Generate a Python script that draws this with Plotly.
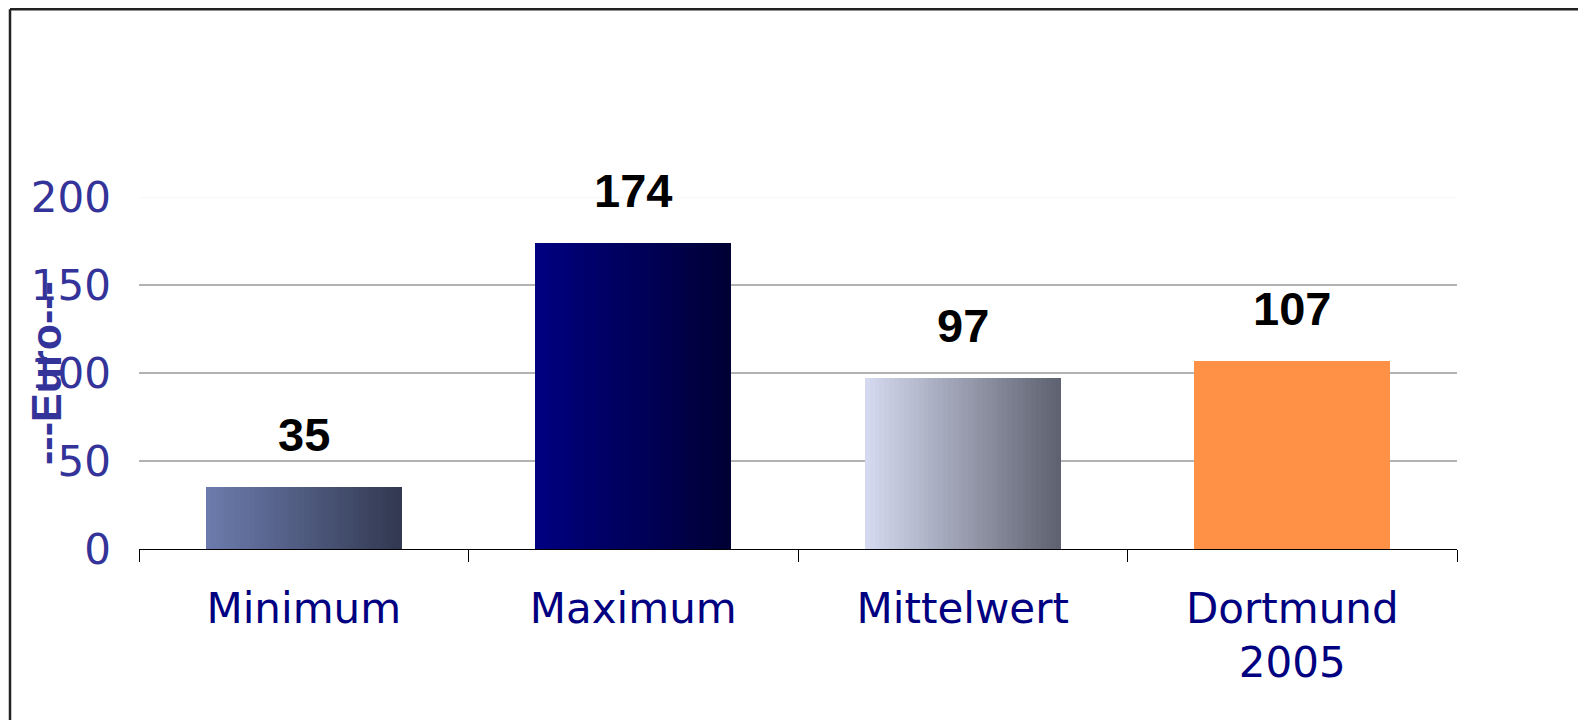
import plotly.graph_objects as go

categories = ["Minimum", "Maximum", "Mittelwert", "Dortmund<br>2005"]
values = [35, 174, 97, 107]
left_colors = ["#6d7cae", "#000082", "#d6dbf1", "#ff9147"]
right_colors = ["#313850", "#000033", "#5d606e", "#ff9147"]
y_ticks = [0, 50, 100, 150, 200]
grid_values = [50, 100, 150]

BAR_W = 0.595
N = 40


def hex2rgb(h):
    h = h.lstrip("#")
    return tuple(int(h[i:i + 2], 16) for i in (0, 2, 4))


def mix(c1, c2, t):
    a, b = hex2rgb(c1), hex2rgb(c2)
    return "rgb(%d,%d,%d)" % tuple(round(a[k] + (b[k] - a[k]) * t) for k in range(3))


fig = go.Figure()
step = BAR_W / N
for i in range(N):
    t = (i + 0.5) / N
    w = step * 1.6 if i < N - 1 else step
    fig.add_trace(go.Bar(
        x=categories, y=values,
        offset=-BAR_W / 2 + i * step, width=w,
        marker=dict(color=[mix(l, r, t) for l, r in zip(left_colors, right_colors)],
                    line=dict(width=0)),
        showlegend=False, hoverinfo="skip",
    ))

for c, v in zip(categories, values):
    fig.add_annotation(x=c, y=v, text=str(v), showarrow=False, yanchor="bottom",
                       yshift=24,
                       font=dict(family="Liberation Sans", size=47, color="black", weight="bold"),
                       xref="x", yref="y")

shapes = []
for g in grid_values:
    shapes.append(dict(type="line", xref="paper", yref="y", x0=0, x1=1, y0=g, y1=g,
                       line=dict(color="#999999", width=1.3), layer="below"))
shapes.append(dict(type="line", xref="paper", yref="y", x0=0, x1=1, y0=200, y1=200,
                   line=dict(color="#f2f2f2", width=1), layer="below"))
# outer frame (top and left edges)
FRAME_Y = (541 - 1.2) / 352
FRAME_X = (2 - 131) / 1318
shapes.append(dict(type="line", xref="paper", yref="paper", x0=FRAME_X, x1=1.2, y0=FRAME_Y, y1=FRAME_Y,
                   line=dict(color="#222222", width=2.5)))
shapes.append(dict(type="line", xref="paper", yref="paper", x0=FRAME_X, x1=FRAME_X, y0=FRAME_Y, y1=-0.6,
                   line=dict(color="#222222", width=2.5)))

fig.add_annotation(text="---Euro---", textangle=-90, xref="paper", yref="paper",
                   x=(46 - 139) / 1318, y=0.5, xanchor="center", yanchor="middle",
                   showarrow=False,
                   font=dict(family="Liberation Sans", size=43, color="#333399", weight="bold"))

fig.update_layout(
    width=1586, height=720,
    margin=dict(l=131, r=137, t=189, b=179),
    paper_bgcolor="white", plot_bgcolor="white",
    barmode="overlay", bargap=0,
    shapes=shapes,
    xaxis=dict(type="category", tickson="boundaries", ticks="outside", ticklen=12,
               tickcolor="black", tickwidth=1, showline=True, linecolor="black", linewidth=1.3,
               showgrid=False, ticklabelstandoff=22,
               tickfont=dict(family="DejaVu Sans", size=42, color="#000080"),
               range=[-0.5, 3.5]),
    yaxis=dict(range=[0, 200], tickvals=y_ticks, showgrid=False, zeroline=False,
               showline=False, ticks="", ticklabelstandoff=27,
               tickfont=dict(family="DejaVu Sans", size=42, color="#333399")),
)

fig.write_html("out.html")
